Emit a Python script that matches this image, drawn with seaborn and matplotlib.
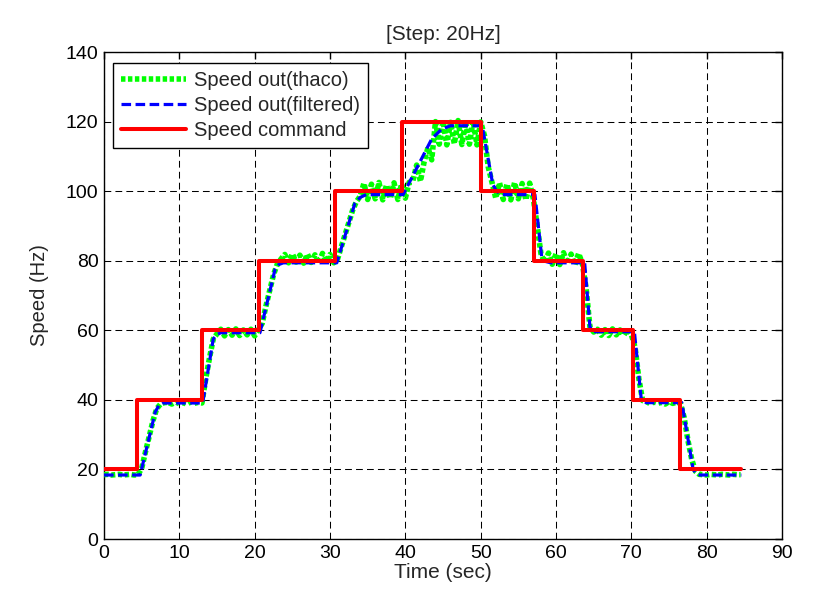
import numpy as np
import pandas as pd
import matplotlib
matplotlib.use("Agg")
import matplotlib.pyplot as plt
import seaborn as sns

# ---- data ----
# Speed command (step-post)
cmd_t = [0, 4.35, 12.97, 20.6, 30.7, 39.5, 50.1, 57.1, 63.6, 70.2, 76.5, 84.6]
cmd_v = [20, 40, 60, 80, 100, 120, 100, 80, 60, 40, 20, 20]

# Filtered speed (key points)
filt_t = [0, 4.8, 6.8, 7.3, 7.8, 13.1, 14.5, 15.0, 15.5, 20.7, 22.7, 23.2, 23.8,
          30.9, 33.3, 34.0, 34.8, 39.7, 43.5, 44.8, 46.0, 50.2, 51.6, 52.1, 52.8,
          57.2, 58.1, 58.6, 59.3, 63.8, 64.5, 64.8, 65.2, 70.4, 71.3, 71.6, 72.0,
          76.7, 78.2, 78.6, 79.1, 84.6]
filt_v = [18.4, 18.4, 36.5, 38.5, 39.1, 39.1, 57.5, 58.8, 59.3, 59.3, 77.5, 78.9, 79.4,
          79.4, 96.5, 98.2, 99.0, 99.0, 115.0, 117.8, 118.8, 118.8, 102.0, 100.0, 99.0,
          99.0, 81.0, 79.8, 79.4, 79.4, 61.0, 60.0, 59.6, 59.6, 40.5, 39.6, 39.2, 39.2,
          20.0, 18.9, 18.4, 18.4]

# Tachometer speed, sampled every 0.5 s from 0 to 84.5 s
thaco_t = list(np.arange(0, 84.51, 0.5))
thaco_v = [
    18.5, 18.6, 18.4, 18.5, 18.6, 18.4, 18.5, 18.6, 18.4, 18.5,
    20.3, 25.0, 29.5, 34.0, 37.5, 38.8,
    39.2, 39.3, 38.8, 39.4, 38.9, 39.2, 38.8, 39.4, 39.0, 39.3, 39.1,
    46.0, 52.0, 57.5, 59.0,
    60.3, 58.4, 60.2, 58.6, 60.4, 58.5, 60.1, 58.7, 60.3, 58.4, 60.2,
    62.0, 67.0, 71.5, 76.0, 79.0, 80.5,
    81.8, 79.4, 82.0, 79.6, 81.6, 79.3, 81.9, 79.5, 81.7, 79.2, 82.1, 79.6, 81.8, 79.4,
    80.5, 84.0, 87.5, 91.0, 94.5, 97.0, 98.5,
    102.3, 97.6, 102.0, 97.8, 102.5, 97.5, 101.8, 97.9, 102.4, 97.6, 102.1,
    98.0, 102.5, 103.0, 107.5, 102.8, 108.5, 112.5, 109.0, 120.0, 113.5, 120.2,
    113.3, 119.8, 113.6, 120.3, 113.4, 120.0, 113.5, 120.2, 113.3, 119.9,
    116.0, 107.0, 102.5, 98.0,
    102.4, 97.6, 102.1, 97.5, 102.5, 97.8, 102.2, 97.5, 102.3, 97.7,
    90.0, 82.0, 79.5,
    82.2, 79.0, 82.0, 78.9, 82.3, 79.1, 81.9, 78.8, 82.1, 79.2,
    72.0, 61.0, 59.5,
    60.3, 58.6, 60.2, 58.5, 60.4, 58.7, 60.1, 58.6, 60.3, 58.8,
    55.0, 46.0, 39.8,
    39.5, 38.9, 39.4, 39.0, 39.3, 38.8, 39.5, 39.0, 39.3, 39.1,
    35.0, 28.5, 23.0, 19.5, 18.6,
    18.5, 18.4, 18.6, 18.5, 18.4, 18.6, 18.5, 18.4, 18.6, 18.5, 18.5,
]
thaco_t = thaco_t[:len(thaco_v)]

title = "[Step: 20Hz]"
xlabel = "Time (sec)"
ylabel = "Speed (Hz)"
labels = ["Speed out(thaco)", "Speed out(filtered)", "Speed command"]
xticks = list(range(0, 91, 10))
yticks = list(range(0, 141, 20))

# ---- plotting ----
sns.set_style("white")
plt.rcParams["font.family"] = ["Liberation Sans", "DejaVu Sans"]
plt.rcParams["font.size"] = 14

fig = plt.figure(figsize=(8.17, 6.14), dpi=100)
ax = fig.add_axes([0.1273, 0.1221, 0.8299, 0.7932])

df_th = pd.DataFrame({"t": thaco_t, "v": thaco_v})
df_f = pd.DataFrame({"t": filt_t, "v": filt_v})
df_c = pd.DataFrame({"t": cmd_t, "v": cmd_v})

sns.lineplot(data=df_th, x="t", y="v", ax=ax, color=(0, 1, 0), lw=4.0,
             linestyle=(0, (0.8, 0.45)), label=labels[0], zorder=3)
sns.lineplot(data=df_f, x="t", y="v", ax=ax, color=(0, 0, 1), lw=2.3,
             linestyle=(0, (3.0, 1.4)), label=labels[1], zorder=4)
sns.lineplot(data=df_c, x="t", y="v", ax=ax, color=(1, 0, 0), lw=2.9,
             drawstyle="steps-post", label=labels[2], zorder=5)

ax.set_xlim(0, 90)
ax.set_ylim(0, 140)
ax.set_xticks(xticks)
ax.set_yticks(yticks)
ax.grid(True, color="black", lw=0.75, linestyle=(0, (6.5, 4.0)))
ax.set_axisbelow(True)
for s in ax.spines.values():
    s.set_color("black")
    s.set_linewidth(1.0)
    s.set_visible(True)
ax.tick_params(direction="in", length=5, width=1.0, top=True, right=True,
               labelsize=14, colors="black", pad=4)

ax.set_title(title, fontsize=15, pad=9)
ax.set_xlabel(xlabel, fontsize=15, labelpad=1)
ax.set_ylabel(ylabel, fontsize=14.5, labelpad=12)

leg = ax.legend(loc="upper left", bbox_to_anchor=(0.0133, 0.978), borderaxespad=0,
                fontsize=14.5, handlelength=3.2, handletextpad=0.4, labelspacing=0.3,
                borderpad=0.4, fancybox=False, framealpha=1, edgecolor="black")
leg.get_frame().set_linewidth(1.0)

fig.savefig("out.png", dpi=100)
